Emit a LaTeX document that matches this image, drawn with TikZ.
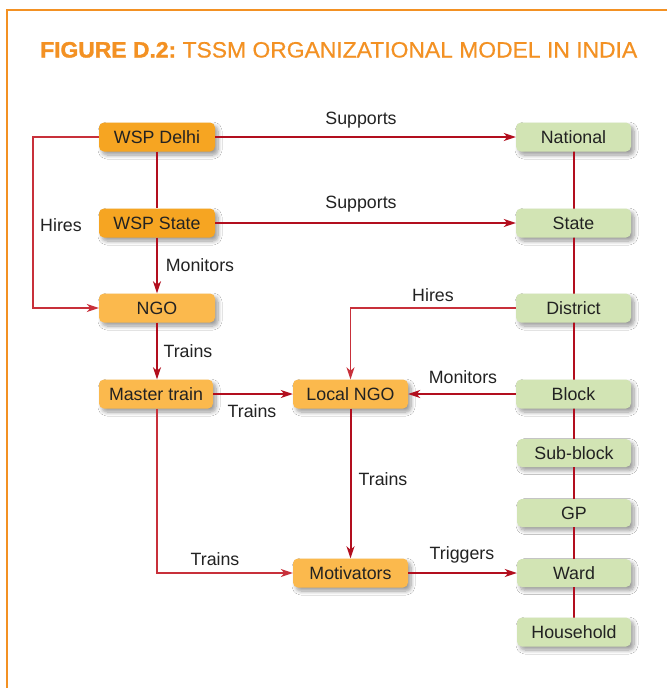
\documentclass[tikz,border=0pt]{standalone}
\usepackage{fontspec}
\setmainfont{Liberation Sans}
\newfontfamily\titlefont[FakeBold=0.5]{Liberation Sans}
\newfontfamily\titleboldfont[FakeBold=1.5]{Liberation Sans Bold}
\usetikzlibrary{arrows.meta,shadows.blur,calc}
\definecolor{frameor}{HTML}{F39123}
\definecolor{darkor}{HTML}{F6A522}
\definecolor{lightor}{HTML}{FBB94D}
\definecolor{lgreen}{HTML}{D2E4B4}
\definecolor{linered}{HTML}{B20E1E}
\definecolor{thinred}{HTML}{C8303A}
\definecolor{txt}{HTML}{222222}
\tikzset{
  box/.style={rounded corners=5pt, minimum width=116pt, minimum height=29pt, inner sep=0pt,
    font=\fontsize{17.8}{19}\selectfont, text=txt,
    blur shadow={shadow xshift=3pt, shadow yshift=-3.5pt, shadow blur steps=8, shadow blur radius=4pt, shadow opacity=40}},
  obox/.style={box, fill=darkor},
  lbox/.style={box, fill=lightor},
  gbox/.style={box, fill=lgreen},
  conn/.style={draw=linered, line width=2pt},
  thin conn/.style={draw=thinred, line width=1.2pt},
  arr/.style={-{Stealth[length=12pt,width=8pt,inset=3.5pt]}},
  lab/.style={font=\fontsize{17.8}{19}\selectfont, text=txt, inner sep=0pt},
}
\begin{document}
\begin{tikzpicture}[x=1pt,y=-1pt]
\useasboundingbox (0,0) rectangle (667,688);
\fill[white] (0,0) rectangle (667,688);
\draw[frameor, line width=1.2pt] (7,688) -- (7,10) -- (667,10);
\node[anchor=base west, text=frameor, inner sep=0pt] (title) at (40,57.5)
  {\resizebox{597pt}{15.5pt}{{\titleboldfont FIGURE D.2:}\titlefont\ TSSM ORGANIZATIONAL MODEL IN INDIA}};

% right vertical chain (behind nodes)
\coordinate (cn) at (573.5,137);
\coordinate (ch) at (573.5,632);
\draw[linered, line width=2pt] (cn) -- (ch);

% left column
\node[obox] (delhi) at (157,137) {WSP Delhi};
\node[obox] (wspstate) at (157,223) {WSP State};
\node[lbox] (ngo) at (157,308) {NGO};
\node[lbox, minimum width=114pt] (master) at (156,394) {Master train};
\node[lbox, minimum width=115pt] (local) at (350.5,394) {Local NGO};
\node[lbox, minimum width=115pt] (motiv) at (350.5,573) {Motivators};
% right column
\node[gbox, minimum width=115pt] (national) at (573.5,137) {National};
\node[gbox, minimum width=115pt] (state) at (573.5,223) {State};
\node[gbox, minimum width=115pt] (district) at (573.5,308) {District};
\node[gbox, minimum width=115pt] (block) at (573.5,394) {Block};
\node[gbox, minimum width=114pt, minimum height=28pt] (subblock) at (574,453) {Sub-block};
\node[gbox, minimum width=114pt, minimum height=28pt] (gp) at (574,513) {GP};
\node[gbox, minimum width=114pt, minimum height=28pt] (ward) at (574,573) {Ward};
\node[gbox, minimum width=114pt] (household) at (574,632) {Household};

% chain segments over shadows
\draw[linered, line width=2pt] (national.south) -- (state.north);
\draw[linered, line width=2pt] (state.south) -- (district.north);
\draw[linered, line width=2pt] (district.south) -- (block.north);
\draw[linered, line width=2pt] (block.south) -- (block.south |- subblock.north);
\draw[linered, line width=2pt] (block.south |- subblock.south) -- (block.south |- gp.north);
\draw[linered, line width=2pt] (block.south |- gp.south) -- (block.south |- ward.north);
\draw[linered, line width=2pt] (block.south |- ward.south) -- (block.south |- household.north);

% connectors
\draw[conn, arr] (delhi.east) -- (national.west);
\draw[conn, arr] (wspstate.east) -- (state.west);
\draw[conn] (delhi.south) -- (wspstate.north);
\draw[conn, arr] (wspstate.south) -- (ngo.north);
\coordinate (h1) at (33,137);
\coordinate (h2) at (33,308);
\draw[thin conn, arr] (delhi.west) -- (h1) -- (h2) -- (ngo.west);
\draw[conn, arr] (ngo.south) -- (master.north -| ngo.south);
\draw[conn, arr] (master.east) -- (local.west);
\coordinate (d1) at (350.5,308);
\draw[thin conn, arr] (district.west) -- (d1) -- (local.north);
\draw[conn, arr] (block.west) -- (local.east);
\draw[conn, arr] (local.south) -- (motiv.north);
\coordinate (m1) at (157,573);
\draw[thin conn, arr] (master.south -| m1) -- (m1) -- (motiv.west);
\draw[conn, arr] (motiv.east) -- (ward.west);

% labels
\node[lab] (l1) at (361,120) {Supports};
\node[lab] (l2) at (361,204) {Supports};
\node[lab] (l3) at (61,225) {Hires};
\node[lab] (l4) at (200,265) {Monitors};
\node[lab] (l5) at (433,295) {Hires};
\node[lab] (l6) at (188,351) {Trains};
\node[lab] (l7) at (252,411) {Trains};
\node[lab] (l8) at (463,377) {Monitors};
\node[lab] (l9) at (383,479) {Trains};
\node[lab] (l10) at (215,559) {Trains};
\node[lab] (l11) at (462,555) {Triggers};
\end{tikzpicture}
\end{document}
